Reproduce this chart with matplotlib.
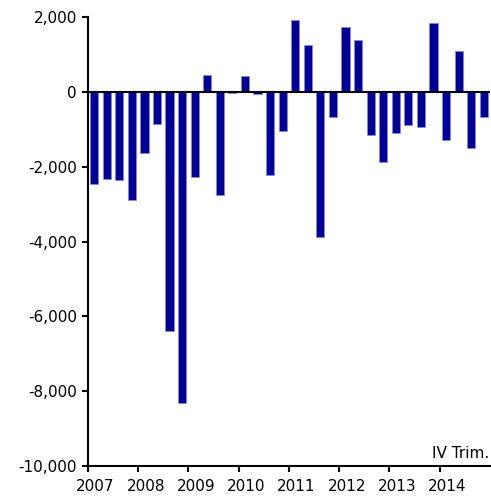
import matplotlib
matplotlib.use("Agg")
import matplotlib.pyplot as plt
import numpy as np

years = ["2007", "2008", "2009", "2010", "2011", "2012", "2013", "2014"]
# quarterly values, 2007 Q1 .. 2014 Q4
values = [-2470, -2320, -2360, -2900,
          -1640, -860, -6390, -8310,
          -2270, 450, -2750, -30,
          410, -70, -2220, -1060,
          1925, 1240, -3880, -660,
          1730, 1380, -1150, -1880,
          -1100, -900, -950, 1830,
          -1300, 1100, -1490, -660]
yticks = [-10000, -8000, -6000, -4000, -2000, 0, 2000]
note = "IV Trim."

plt.rcParams["font.family"] = ["DejaVu Sans"]

fig = plt.figure(figsize=(4.91, 4.98), dpi=100)
ax = fig.add_axes([0.179, 0.064, 0.819, 0.902])

x = np.arange(len(values))
ax.bar(x, values, width=0.65, color="#000099", edgecolor="#8888dd", linewidth=0.5, zorder=2)
ax.axhline(0, color="black", linewidth=1.5, zorder=3)

ax.set_xlim(-0.5, 31.5)
ax.set_ylim(-10000, 2000)

ax.set_yticks(yticks)
ax.set_yticklabels([f"{v:,}" for v in yticks])
ax.set_xticks(np.arange(len(years)) * 4 - 0.5)
ax.set_xticklabels([])
ax.set_xticks(np.arange(len(years)) * 4 + 0.1, minor=True)
ax.set_xticklabels(years, minor=True)
ax.tick_params(axis="both", which="major", length=4.5, width=1.5, labelsize=11)
ax.tick_params(axis="x", which="minor", length=0, pad=9, labelsize=11)

for side in ["top", "right"]:
    ax.spines[side].set_visible(False)
for side in ["left", "bottom"]:
    ax.spines[side].set_linewidth(1.5)

ax.text(31.4, -9650, note, ha="right", va="center", fontsize=11)

fig.savefig("out.png", dpi=100)
